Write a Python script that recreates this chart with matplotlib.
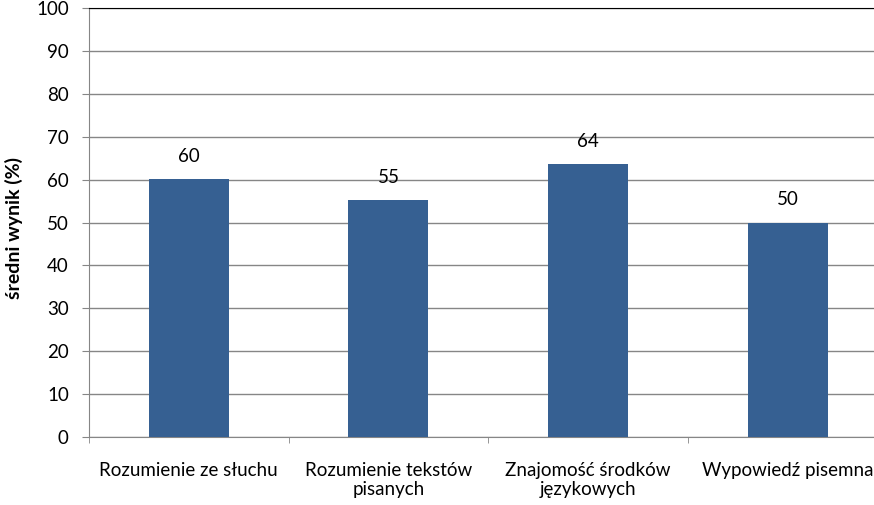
import matplotlib.pyplot as plt
import numpy as np

plt.rcParams['font.family'] = ['Lato', 'DejaVu Sans']

categories = ["Rozumienie ze słuchu", "Rozumienie tekstów\npisanych",
              "Znajomość środków\njęzykowych", "Wypowiedź pisemna"]
values = [60.1, 55.2, 63.6, 49.9]
labels = ["60", "55", "64", "50"]

fig = plt.figure(figsize=(8.74, 5.05), dpi=100)
ax = fig.add_axes([89 / 874, 68 / 505, 1 - 89 / 874, 429 / 505])

x = np.arange(len(categories))
bars = ax.bar(x, values, width=0.4, color="#366092", zorder=3)
for b, lab in zip(bars, labels):
    ax.text(b.get_x() + b.get_width() / 2, b.get_height() + 3.4, lab,
            ha="center", va="bottom", fontsize=13.5, color="#000000")

ax.set_yticks(range(0, 101, 10))
ax.yaxis.grid(True, color="#868686", linewidth=1)
ax.set_axisbelow(True)

ax.set_xticks(x)
ax.set_xticklabels(categories, fontsize=13.5, linespacing=1.12)
ax.set_xticks(np.arange(-0.5, 4, 1), minor=True)
ax.tick_params(axis="x", which="major", length=0, pad=18)
ax.tick_params(axis="x", which="minor", length=4.5, color="#868686")
ax.tick_params(axis="y", length=5, color="#868686", labelsize=13.5, pad=9.5)

# limits after ticks (set_xticks can widen the view)
ax.set_ylim(0, 100)
ax.set_xlim(-0.5, -0.5 + (874 - 89) / 199.6)

ax.spines["right"].set_visible(False)
ax.spines["top"].set_color("black")
ax.spines["left"].set_color("#868686")
ax.spines["bottom"].set_color("#868686")

ax.set_ylabel("średni wynik (%)", fontsize=14, fontweight="bold")
ax.yaxis.set_label_coords(-66 / 785, 0.487)

fig.savefig("out.png", dpi=100)
